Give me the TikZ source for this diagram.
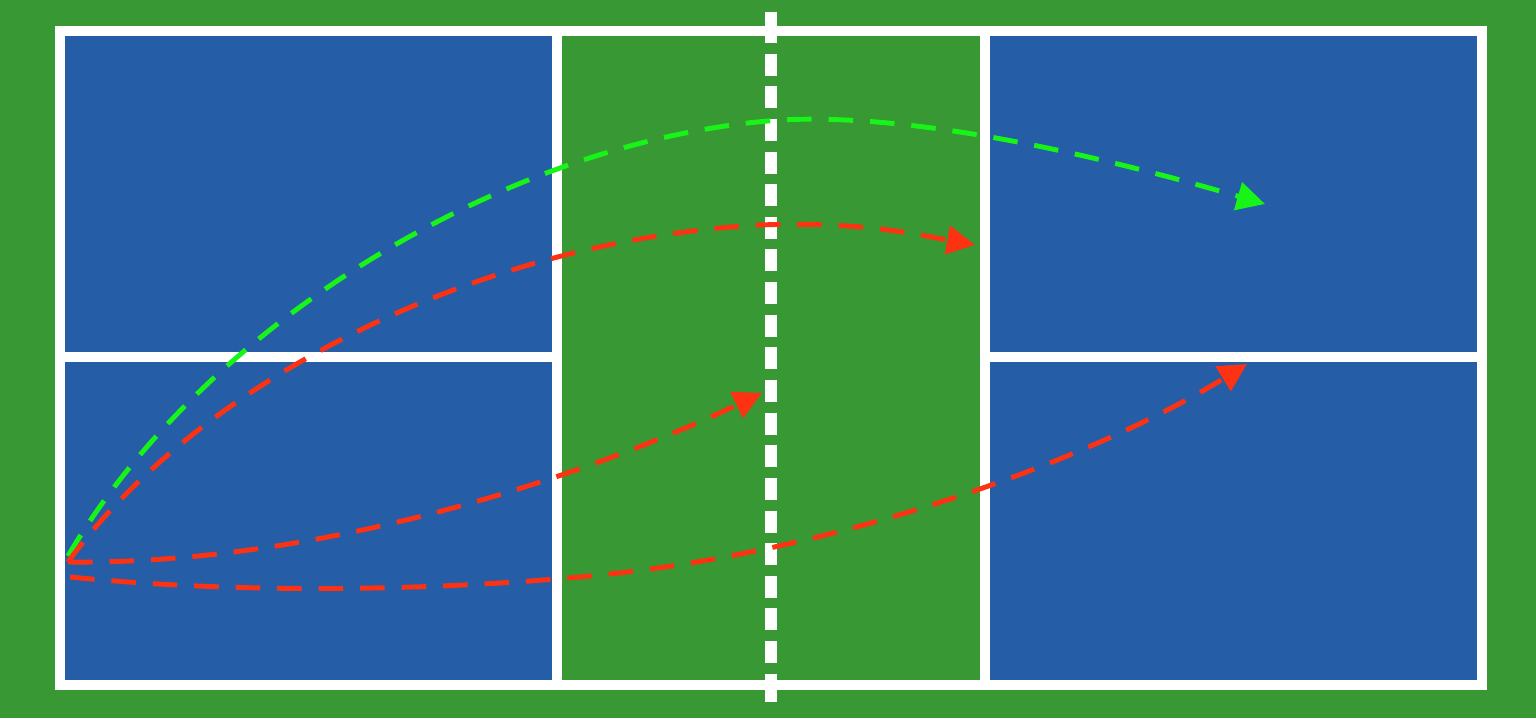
\documentclass[tikz,border=0pt]{standalone}
\usetikzlibrary{arrows.meta}

\definecolor{courtgreen}{RGB}{56,152,52}
\definecolor{courtblue}{RGB}{38,93,167}
\definecolor{shotred}{RGB}{252,50,18}
\definecolor{shotgreen}{RGB}{24,244,24}

\begin{document}
\begin{tikzpicture}[x=0.01cm, y=-0.01cm,
  courtline/.style={white, line width=3.1pt},
  shot/.style={line width=1.4pt, dash pattern=on 7pt off 4.8pt,
    -{Triangle[length=8pt,width=8pt]}}]

\useasboundingbox (0,0) rectangle (1536,718);

\coordinate (c0) at (60,31);
\coordinate (c1) at (1482,685);
\coordinate (k0) at (557,31);
\coordinate (k1) at (557,685);
\coordinate (k2) at (985,31);
\coordinate (k3) at (985,685);
\coordinate (h0) at (60,357);
\coordinate (h1) at (557,357);
\coordinate (h2) at (985,357);
\coordinate (h3) at (1482,357);

% serve and landing points
\coordinate (s0) at (68,556);
\coordinate (s1) at (68,562);
\coordinate (s2) at (70,577);
\coordinate (t0) at (1265,204);
\coordinate (t1) at (975,245);
\coordinate (t2) at (762,393);
\coordinate (t3) at (1247,364);

% ground
  \fill[courtgreen] (0,0) rectangle (1536,718);
  \fill[courtblue] (c0) rectangle (k1);
  \fill[courtblue] (k2) rectangle (c1);

% court lines
  \draw[courtline] (c0) rectangle (c1);
  \draw[courtline] (k0) -- (k1);
  \draw[courtline] (k2) -- (k3);
  \draw[courtline] (h0) -- (h1);
  \draw[courtline] (h2) -- (h3);

% net
  \draw[white, line width=3.4pt] (771,12) -- (771,26);
  \draw[white, line width=3.4pt, dash pattern=on 6.26pt off 3.02pt] (771,21) -- (771,695);
  \draw[white, line width=3.4pt] (771,690) -- (771,702);

% deep lob
  \draw[shot, shotgreen] (s0) .. controls (200,330) and (500,140) .. (780,120)
    .. controls (930,112) and (1130,165) .. (t0);

% drives
  \draw[shot, shotred] (s1) .. controls (200,380) and (480,240) .. (760,225)
    .. controls (860,221) and (920,235) .. (t1);
  \draw[shot, shotred] (s1) .. controls (330,565) and (600,470) .. (t2);
  \draw[shot, shotred] (s2) .. controls (250,595) and (450,590) .. (600,575)
    .. controls (850,550) and (1100,455) .. (t3);

\end{tikzpicture}
\end{document}
